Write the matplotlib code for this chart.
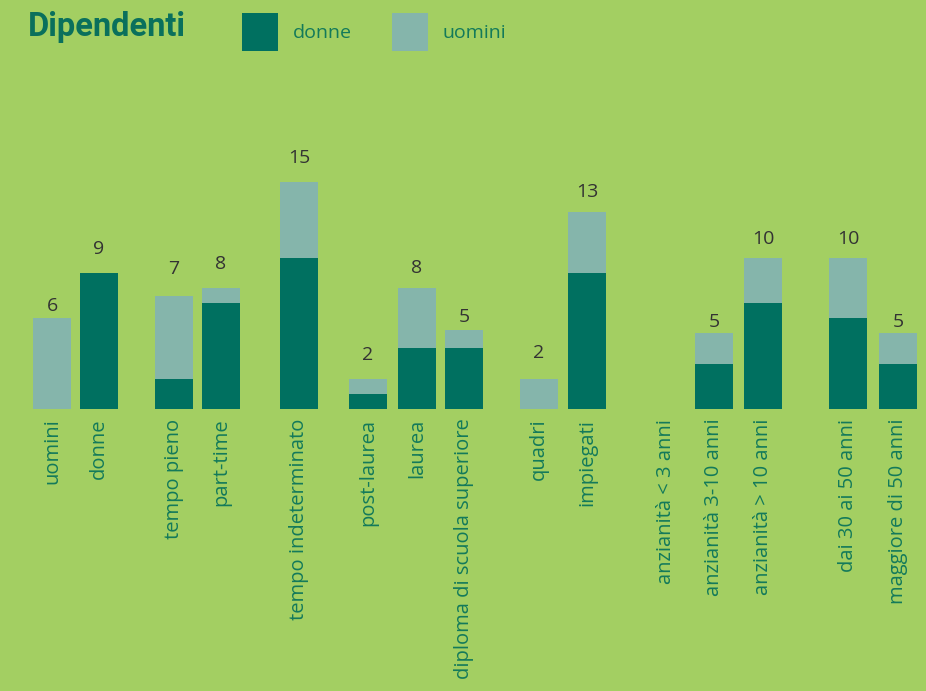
import matplotlib.pyplot as plt
from matplotlib.patches import Patch

# Dipendenti: stacked bars donne / uomini per categoria

categories = ['uomini', 'donne', 'tempo pieno', 'part-time', 'tempo indeterminato',
              'post-laurea', 'laurea', 'diploma di scuola superiore', 'quadri',
              'impiegati', 'anzianità < 3 anni', 'anzianità 3-10 anni',
              'anzianità > 10 anni', 'dai 30 ai 50 anni', 'maggiore di 50 anni']
donne = [0, 9, 2, 7, 10, 1, 4, 4, 0, 9, 0, 3, 7, 6, 3]
uomini = [6, 0, 5.5, 1, 5, 1, 4, 1.2, 2, 4, 0, 2, 3, 4, 2]
# totals as printed above the bars
totals = [6, 9, 7, 8, 15, 2, 8, 5, 2, 13, 0, 5, 10, 10, 5]

# bar centres (groups separated by wider gaps)
xpos = [52, 99, 174, 221, 299, 368, 417, 464, 539, 587, 666, 714, 763, 848, 898]
# gap (px) between bar top and its number, as in the original layout
label_gap = [8, 20, 23, 20, 20, 20, 16, 9, 22, 16, 0, 7, 15, 15, 7]

BG = '#a3cf62'
DARK = '#007060'
LIGHT = '#85b5ab'
TXT = '#137a5a'

plt.rcParams['font.family'] = ['Open Sans', 'DejaVu Sans']

fig = plt.figure(figsize=(9.26, 6.91), dpi=100, facecolor=BG)
ax = fig.add_axes([0, 282 / 691, 1, 309 / 691])
ax.set_facecolor(BG)

ax.bar(xpos, donne, width=38, color=DARK, linewidth=0)
ax.bar(xpos, uomini, width=38, bottom=donne, color=LIGHT, linewidth=0)

for x, d, u, t, g in zip(xpos, donne, uomini, totals, label_gap):
    if t > 0:
        ax.annotate(str(t), (x, d + u), xytext=(0, (g - 5) * 0.72),
                    textcoords='offset points', ha='center', va='bottom',
                    fontsize=14, color='#333333')

ax.set_xlim(0, 926)
ax.set_ylim(0, 309 / 15.13)
ax.set_xticks(xpos)
ax.set_xticklabels(categories, rotation=90, fontsize=14.5, color=TXT)
ax.tick_params(axis='x', length=0, pad=7)
ax.set_yticks([])
for s in ax.spines.values():
    s.set_visible(False)

fig.text(28 / 926, 1 - 36 / 691, 'Dipendenti', fontsize=23.5, fontweight='bold',
         color='#0a705c', family=['Roboto', 'DejaVu Sans'], ha='left', va='baseline')

handles = [Patch(facecolor=DARK, edgecolor='none'), Patch(facecolor=LIGHT, edgecolor='none')]
leg = fig.legend(handles, ['donne', 'uomini'], loc='center left',
                 bbox_to_anchor=(242 / 926, 1 - 32 / 691), ncol=2, frameon=False,
                 fontsize=14, handlelength=1.85, handleheight=2.63,
                 handletextpad=0.75, columnspacing=2.1, borderaxespad=0,
                 borderpad=0)
for t in leg.get_texts():
    t.set_color(TXT)

fig.savefig('out.png', dpi=100, facecolor=BG)
